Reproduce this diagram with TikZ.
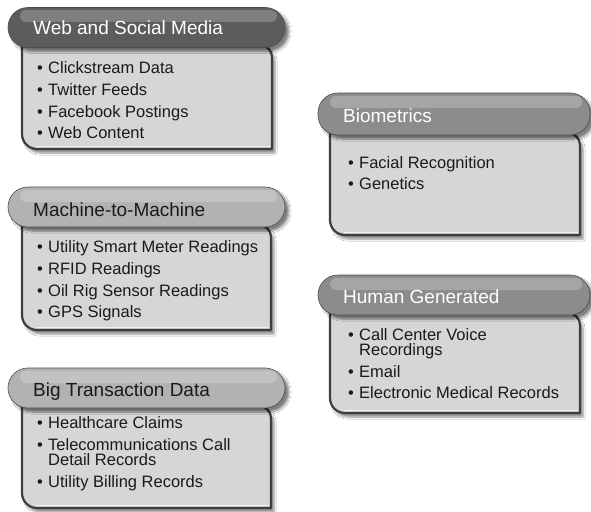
\documentclass[tikz,border=0pt]{standalone}
\usepackage{fontspec}
\setmainfont{Liberation Sans}
\usetikzlibrary{shadows,shadows.blur}
\definecolor{bodyfill}{HTML}{D6D6D6}
\definecolor{bodyline}{HTML}{3E3E3E}
\definecolor{hdark}{HTML}{5C5C5C}
\definecolor{hmid}{HTML}{8C8C8C}
\definecolor{hlight}{HTML}{B2B2B2}
\definecolor{txt}{HTML}{1A1A1A}
\tikzset{
  bodyshape/.style={fill=bodyfill, draw=bodyline, line width=2.2pt, line join=round,
    blur shadow={shadow xshift=3pt, shadow yshift=-4pt, shadow blur steps=6, shadow opacity=45}},
  pill/.style={draw=black!70, line width=0.6pt, rounded corners=19.9pt, inner sep=0pt,
    minimum width=277pt, minimum height=40pt,
    blur shadow={shadow xshift=4pt, shadow yshift=-4pt, shadow blur steps=6, shadow opacity=50}},
  gloss/.style={fill=white, opacity=0.22, rounded corners=6pt},
  rim/.style={draw=white, opacity=0.7, line width=1pt},
  htext/.style={anchor=base west, inner sep=0pt, font=\fontsize{19}{22}\selectfont},
  btext/.style={anchor=base west, inner sep=0pt, text=txt, font=\fontsize{16.5}{18}\selectfont},
}
\newcommand{\mybody}[4]{%
  \path[bodyshape] (#1,#2) -- ({#3-12},#2) .. controls ({#3-5.4},#2) and (#3,{#2+5.4}) .. (#3,{#2+12})
    -- (#3,#4) -- ({#1+15},#4) .. controls ({#1+6.7},#4) and (#1,{#4-6.7}) .. (#1,{#4-15}) -- cycle;
  \draw[rim] ({#1+14},{#4-3}) -- ({#3-2},{#4-3});
}
\newcommand{\bul}{\makebox[11pt][l]{•}}
\begin{document}
\begin{tikzpicture}[x=1pt,y=-1pt]
\useasboundingbox (0,0) rectangle (591,511);
\fill[white] (0,0) rectangle (591,511);

% ---- Web and Social Media
\mybody{22}{45}{272}{149}
\node[pill, fill=hdark] (hweb) at (146.5,27.5) {};
\fill[gloss] (20,10) rectangle (277,22);
\node[htext, text=white] (tweb) at (33,35) {Web and Social Media};
\node[btext] (w1) at (37,74) {\bul Clickstream Data};
\node[btext] (w2) at (37,95.5) {\bul Twitter Feeds};
\node[btext] (w3) at (37,117) {\bul Facebook Postings};
\node[btext] (w4) at (37,138.5) {\bul Web Content};

% ---- Machine-to-Machine
\mybody{22}{225}{271}{330}
\node[pill, fill=hlight] (hm2m) at (146.5,207) {};
\fill[gloss] (20,190) rectangle (277,202);
\node[htext, text=txt] (tm2m) at (33,216) {Machine-to-Machine};
\node[btext] (m1) at (37,252) {\bul Utility Smart Meter Readings};
\node[btext] (m2) at (37,274) {\bul RFID Readings};
\node[btext] (m3) at (37,296) {\bul Oil Rig Sensor Readings};
\node[btext] (m4) at (37,317) {\bul GPS Signals};

% ---- Big Transaction Data
\mybody{22}{406}{271}{508}
\node[pill, fill=hlight] (hbig) at (146.5,388) {};
\fill[gloss] (20,371) rectangle (277,383);
\node[htext, text=txt] (tbig) at (33,396) {Big Transaction Data};
\node[btext] (b1) at (37,428) {\bul Healthcare Claims};
\node[btext] (b2) at (37,450) {\bul Telecommunications Call};
\node[btext] (b2b) at (48,465) {Detail Records};
\node[btext] (b3) at (37,487) {\bul Utility Billing Records};

% ---- Biometrics
\mybody{330}{133}{580}{235}
\node[pill, fill=hmid, minimum width=272pt, minimum height=42pt] (hbio) at (454,114) {};
\fill[gloss] (330,96) rectangle (582,108);
\node[htext, text=white] (tbio) at (343,122) {Biometrics};
\node[btext] (r1) at (348,168) {\bul Facial Recognition};
\node[btext] (r2) at (348,189) {\bul Genetics};

% ---- Human Generated
\mybody{330}{313}{580}{413}
\node[pill, fill=hmid, minimum width=272pt] (hhum) at (454,295) {};
\fill[gloss] (330,278) rectangle (582,290);
\node[htext, text=white] (thum) at (343,303) {Human Generated};
\node[btext] (u1) at (348,340) {\bul Call Center Voice};
\node[btext] (u1b) at (359,355) {Recordings};
\node[btext] (u2) at (348,377) {\bul Email};
\node[btext] (u3) at (348,398) {\bul Electronic Medical Records};
\end{tikzpicture}
\end{document}
